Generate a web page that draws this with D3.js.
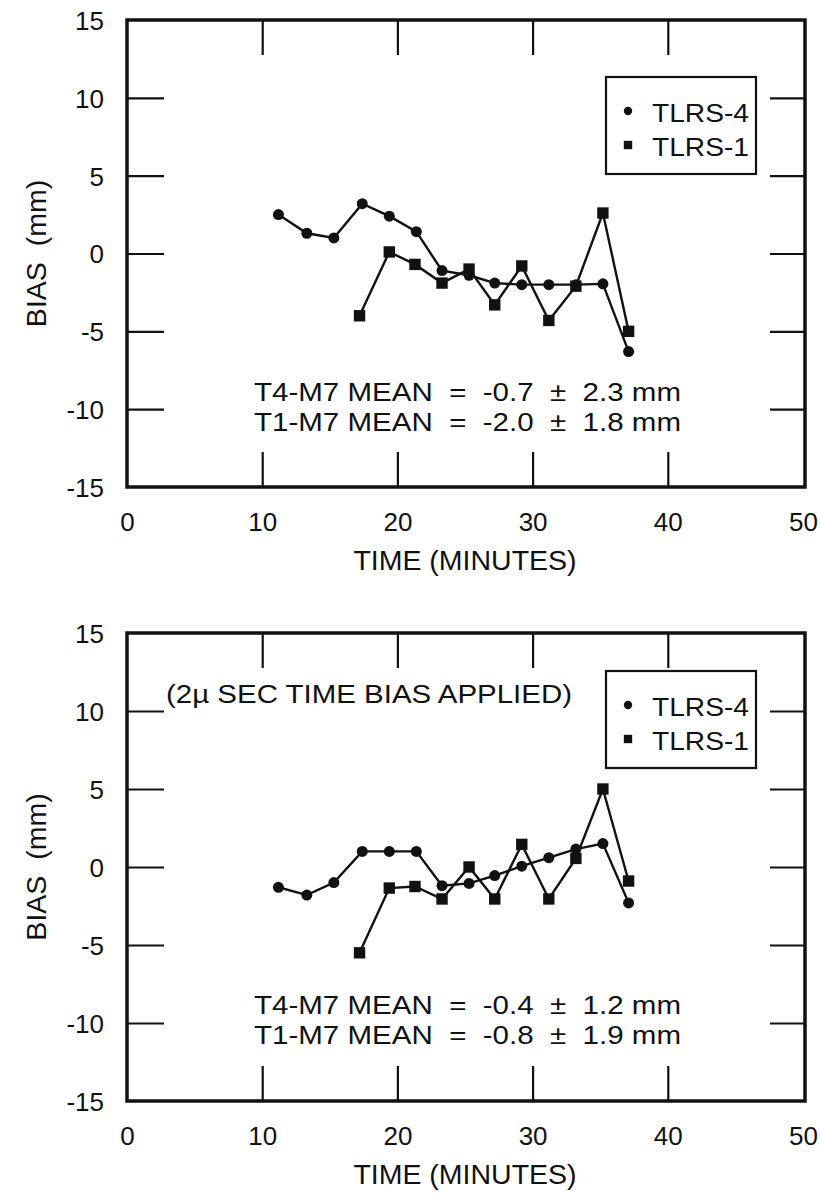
<!DOCTYPE html>
<html lang="en">
<head>
<meta charset="UTF-8">
<title>TLRS bias vs time</title>
<script src="https://d3js.org/d3.v7.min.js"></script>
<style>
body { margin: 0; background: #fff; }
text { font-family: "Liberation Sans", Arial, sans-serif; fill: #111; }
.frame { fill: none; stroke: #111; stroke-width: 3.5; }
.ticks line { stroke: #111; stroke-width: 2.2; }
.series { fill: none; stroke: #111; stroke-width: 2.4; }
.legend-box { fill: #fff; stroke: #111; stroke-width: 2.2; }
</style>
</head>
<body>
<svg width="821" height="1195"></svg>
<script>
// pass times (minutes)
const timesT4 = [11.2, 13.3, 15.3, 17.4, 19.4, 21.4, 23.3, 25.3, 27.2, 29.2, 31.2, 33.2, 35.2, 37.1];
const timesT1 = [17.2, 19.4, 21.3, 23.3, 25.3, 27.2, 29.2, 31.2, 33.2, 35.2, 37.1];

// upper panel, bias in mm
const biasT4a = [2.5, 1.3, 1.0, 3.2, 2.4, 1.4, -1.1, -1.4, -1.9, -2.0, -2.0, -2.0, -1.95, -6.3];
const biasT1a = [-4.0, 0.1, -0.7, -1.9, -1.0, -3.3, -0.8, -4.3, -2.1, 2.6, -5.0];

// lower panel (2 usec time bias applied)
const biasT4b = [-1.3, -1.8, -1.0, 1.0, 1.0, 1.0, -1.2, -1.05, -0.55, 0.05, 0.6, 1.15, 1.5, -2.3];
const biasT1b = [-5.5, -1.35, -1.25, -2.05, 0.0, -2.05, 1.45, -2.05, 0.55, 5.0, -0.9];

const xTicks = [0, 10, 20, 30, 40, 50];
const xInner = [10, 20, 30, 40];
const yTicks = [15, 10, 5, 0, -5, -10, -15];
const yInner = [10, 5, 0, -5, -10];
const legendNames = ['TLRS-4', 'TLRS-1'];
const notesA = ['T4-M7 MEAN  =  -0.7  \u00b1  2.3 mm', 'T1-M7 MEAN  =  -2.0  \u00b1  1.8 mm'];
const notesB = ['T4-M7 MEAN  =  -0.4  \u00b1  1.2 mm', 'T1-M7 MEAN  =  -0.8  \u00b1  1.9 mm'];
const headerB = '(2\u00b5 SEC TIME BIAS APPLIED)';

const svg = d3.select('svg');

const circleSym = d3.symbol(d3.symbolCircle, 95);
const squareSym = d3.symbol(d3.symbolSquare, 130);
const plain = d => String(d);   // keep the short hyphen for negatives

const panel = (selection, props) => {
  const { top, bottom, legendTop, t4, t1, notes, header } = props;

  const x = d3.scaleLinear().domain([0, 50]).range([127, 803]);
  const y = d3.scaleLinear().domain([-15, 15]).range([bottom, top]);

  const g = selection.append('g');

  // inward tick marks on all four sides
  g.append('g').attr('class', 'ticks')
    .attr('transform', `translate(0,${bottom})`)
    .call(d3.axisTop(x).tickValues(xInner).tickSize(35).tickFormat(''))
    .select('.domain').remove();
  g.append('g').attr('class', 'ticks')
    .attr('transform', `translate(0,${top})`)
    .call(d3.axisBottom(x).tickValues(xInner).tickSize(35).tickFormat(''))
    .select('.domain').remove();
  g.append('g').attr('class', 'ticks')
    .attr('transform', `translate(${x(0)},0)`)
    .call(d3.axisRight(y).tickValues(yInner).tickSize(37).tickFormat(''))
    .select('.domain').remove();
  g.append('g').attr('class', 'ticks')
    .attr('transform', `translate(${x(50) + 2},0)`)
    .call(d3.axisLeft(y).tickValues(yInner).tickSize(35).tickFormat(''))
    .select('.domain').remove();

  // tick labels
  const xLab = g.append('g')
    .attr('transform', `translate(0,${bottom})`)
    .call(d3.axisBottom(x).tickValues(xTicks).tickSize(0).tickFormat(plain))
    .attr('font-size', 26);
  xLab.select('.domain').remove();
  xLab.selectAll('text').attr('y', 44).attr('dy', null);

  const yLab = g.append('g')
    .attr('transform', `translate(${x(0)},0)`)
    .call(d3.axisLeft(y).tickValues(yTicks).tickSize(0).tickFormat(plain))
    .attr('font-size', 26);
  yLab.select('.domain').remove();
  yLab.selectAll('text').attr('x', -23).attr('dy', '0.36em');

  g.append('rect').attr('class', 'frame')
    .attr('x', x(0)).attr('y', top)
    .attr('width', x(50) + 2 - x(0)).attr('height', bottom - top);

  // axis titles
  g.append('text')
    .attr('x', (x(0) + x(50)) / 2)
    .attr('y', bottom + 83)
    .attr('text-anchor', 'middle')
    .attr('font-size', 28.5)
    .text('TIME (MINUTES)');
  g.append('text')
    .attr('transform', `translate(46,${(top + bottom) / 2}) rotate(-90)`)
    .attr('text-anchor', 'middle')
    .attr('font-size', 28.5)
    .style('white-space', 'pre')
    .text('BIAS  (mm)');

  // series
  const series = [
    { times: timesT4, values: t4, sym: circleSym },
    { times: timesT1, values: t1, sym: squareSym }
  ];
  const line = d3.line().x(d => x(d[0])).y(d => y(d[1]));
  series.forEach(s => {
    const pts = s.times.map((t, i) => [t, s.values[i]]);
    g.append('path').attr('class', 'series').attr('d', line(pts));
    g.selectAll(null).data(pts).enter().append('path')
      .attr('d', s.sym)
      .attr('fill', '#111')
      .attr('transform', d => `translate(${x(d[0])},${y(d[1])})`);
  });

  // legend
  const lg = g.append('g').attr('transform', `translate(606,${legendTop})`);
  lg.append('rect').attr('class', 'legend-box')
    .attr('width', 150).attr('height', 97);
  lg.append('path').attr('d', d3.symbol(d3.symbolCircle, 55))
    .attr('fill', '#111').attr('transform', 'translate(22,34)');
  lg.append('path').attr('d', d3.symbol(d3.symbolSquare, 70))
    .attr('fill', '#111').attr('transform', 'translate(22,68)');
  lg.selectAll('.lab').data(legendNames).enter().append('text')
    .attr('class', 'lab')
    .attr('x', 46)
    .attr('y', (d, i) => 45 + i * 34)
    .attr('font-size', 26)
    .attr('textLength', 97)
    .attr('lengthAdjust', 'spacingAndGlyphs')
    .text(d => d);

  // mean annotations
  g.selectAll('.note').data(notes).enter().append('text')
    .attr('class', 'note')
    .attr('x', 254)
    .attr('y', (d, i) => top + 381 + i * 30)
    .attr('font-size', 25)
    .attr('textLength', 427)
    .attr('lengthAdjust', 'spacingAndGlyphs')
    .style('white-space', 'pre')
    .text(d => d);

  if (header) {
    g.append('text')
      .attr('x', 166)
      .attr('y', top + 70)
      .attr('font-size', 26)
      .attr('textLength', 406)
      .attr('lengthAdjust', 'spacingAndGlyphs')
      .text(header);
  }
};

svg.call(panel, { top: 20, bottom: 487, legendTop: 77, t4: biasT4a, t1: biasT1a, notes: notesA });
svg.call(panel, { top: 633, bottom: 1101, legendTop: 671, t4: biasT4b, t1: biasT1b, notes: notesB, header: headerB });
</script>
</body>
</html>
